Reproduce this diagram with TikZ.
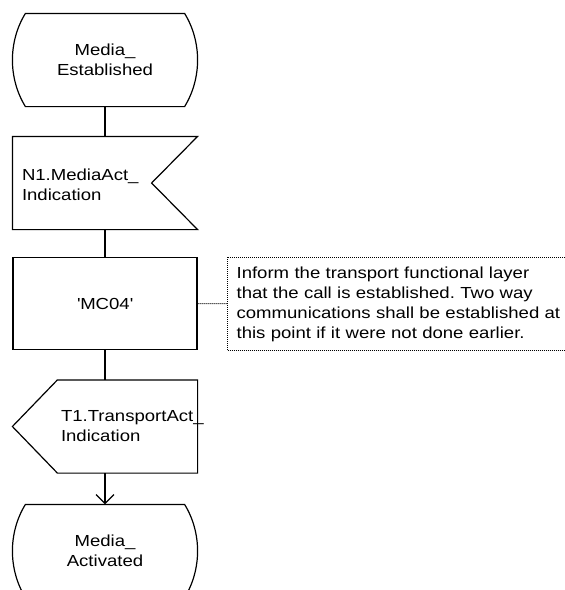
\documentclass[tikz,border=0pt]{standalone}
\usepackage{fontspec}
\setmainfont{Liberation Sans}[FakeStretch=1.16]
\frenchspacing
\usetikzlibrary{arrows.meta}
\tikzset{
  sdl/.style={minimum width=184pt,minimum height=92pt,inner sep=0pt},
  lab/.style={font=\fontsize{16}{20}\selectfont,align=left,inner sep=0pt},
  note line/.style={densely dotted,line width=1pt},
}
\begin{document}
\begin{tikzpicture}[x=1pt,y=-1pt,line width=1.2pt]
    \useasboundingbox (0,0) rectangle (565,590);
    \clip (0,0) rectangle (565,590);
    \node[sdl,lab,align=center] (est) at (105,60) {Media\_\\Established};
    \node[sdl] (act) at (105,183) {};
    \node[lab,anchor=west] (acttext) at ([xshift=9pt,yshift=-2pt]act.west) {N1.MediaAct\_\\Indication};
    \node[sdl,lab,align=center,draw] (mc04) at (105,303.5) {\textquotesingle MC04\textquotesingle};
    \node[lab,minimum height=92pt,text width=345pt,inner xsep=9pt,anchor=west] (note) at (227,304)
        {Inform the transport functional layer\\that the call is established. Two way\\communications shall be established at\\this point if it were not done earlier.};
    \node[sdl] (tact) at (105,426.5) {};
    \node[lab,anchor=west] (tacttext) at ([xshift=48pt]tact.west) {T1.TransportAct\_\\Indication};
    \node[sdl,lab,align=center,yshift=-2pt] (actd) at (105,549) {Media\_\\Activated};
    \foreach \s in {est,actd}
        \draw ([xshift=13pt]\s.north west) -- ([xshift=-13pt]\s.north east)
            .. controls +(17.3,28.2) and +(17.3,-28.2) .. ([xshift=-13pt]\s.south east)
            -- ([xshift=13pt]\s.south west)
            .. controls +(-17.3,-28.2) and +(-17.3,28.2) .. ([xshift=13pt]\s.north west) -- cycle;
    \draw (act.north west) -- (act.north east) -- ([xshift=-46pt]act.east)
        -- (act.south east) -- (act.south west) -- cycle;
    \draw ([xshift=45pt]tact.north west) -- (tact.north east) -- (tact.south east)
        -- ([xshift=45pt]tact.south west) -- (tact.west) -- cycle;
    \draw[note line] (note.north east) -- (note.north west) -- (note.south west) -- (note.south east);
    \draw[note line] (mc04) -- (note);
    \draw (est) -- (act);
    \draw (act) -- (mc04);
    \draw (mc04) -- (tact);
    \draw[-{Straight Barb[length=9pt,width=18pt]}] (tact) -- (actd);
\end{tikzpicture}
\end{document}
